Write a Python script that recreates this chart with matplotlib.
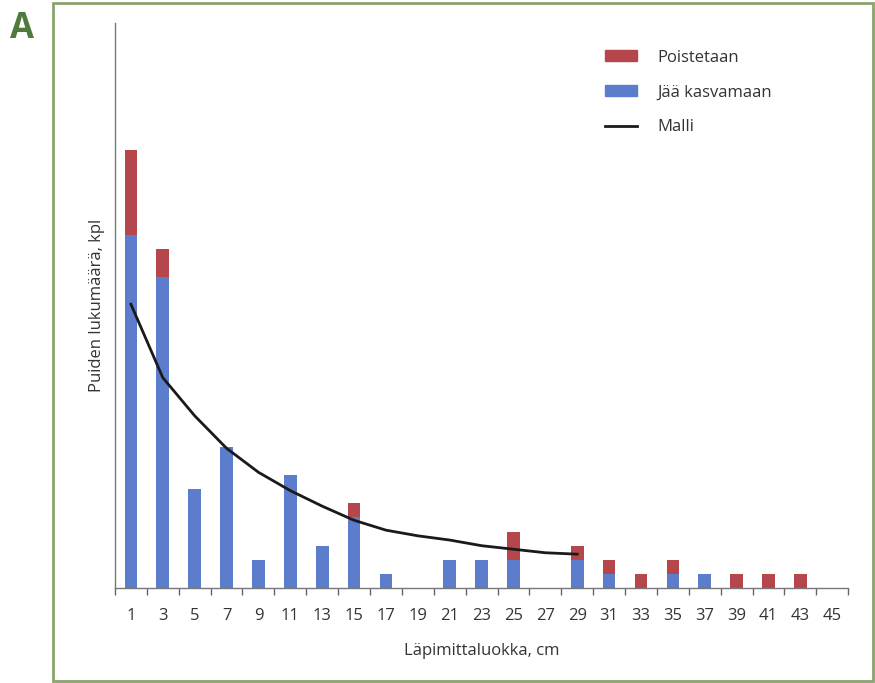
import matplotlib.pyplot as plt
import matplotlib.patches as mpatches
from matplotlib.lines import Line2D

plt.rcParams['font.family'] = ['Open Sans', 'DejaVu Sans']

# Diameter classes and tree counts
classes = [1, 3, 5, 7, 9, 11, 13, 15, 17, 19, 21, 23, 25, 27, 29,
           31, 33, 35, 37, 39, 41, 43, 45]
remaining = [25, 22, 7, 10, 2, 8, 3, 5, 1, 0, 2, 2, 2, 0, 2,
             1, 0, 1, 1, 0, 0, 0, 0]
removed = [6, 2, 0, 0, 0, 0, 0, 1, 0, 0, 0, 0, 2, 0, 1,
           1, 1, 1, 0, 1, 1, 1, 0]

# Model curve (classes 1..29)
model_classes = [1, 3, 5, 7, 9, 11, 13, 15, 17, 19, 21, 23, 25, 27, 29]
model_values = [20.1, 14.9, 12.2, 9.9, 8.2, 6.9, 5.8, 4.8, 4.1, 3.7,
                3.4, 3.0, 2.75, 2.5, 2.4]

red = '#b5474c'
blue = '#5b7dcc'

fig = plt.figure(figsize=(8.75, 6.83), dpi=100)
ax = fig.add_axes([0.1314, 0.139, 0.838, 0.827])

pos = list(range(len(classes)))
ax.bar(pos, remaining, width=0.4, color=blue)
ax.bar(pos, removed, width=0.4, bottom=remaining, color=red)

model_pos = [classes.index(c) for c in model_classes]
ax.plot(model_pos, model_values, color='#1a1a1a', lw=2)

ax.set_xlim(-0.5, len(classes) - 0.5)
ax.set_ylim(0, 40)
ax.set_yticks([])
ax.set_xticks(pos)
ax.set_xticklabels([str(c) for c in classes], fontsize=12, color='#333333')
ax.set_xticks([p - 0.5 for p in pos] + [len(classes) - 0.5], minor=True)
ax.tick_params(axis='x', which='major', length=0, pad=14)
ax.tick_params(axis='x', which='minor', length=5, color='#666666', width=1)

for s in ['top', 'right']:
    ax.spines[s].set_visible(False)
for s in ['left', 'bottom']:
    ax.spines[s].set_color('#777777')
    ax.spines[s].set_linewidth(1)

ax.set_xlabel('Läpimittaluokka, cm', fontsize=12, color='#333333', labelpad=14)
ax.set_ylabel('Puiden lukumäärä, kpl', fontsize=12, color='#333333', labelpad=7)

handles = [mpatches.Patch(color=red, label='Poistetaan'),
           mpatches.Patch(color=blue, label='Jää kasvamaan'),
           Line2D([0], [0], color='#1a1a1a', lw=2, label='Malli')]
leg = ax.legend(handles=handles, loc='upper left', bbox_to_anchor=(0.648, 0.98),
                frameon=False, fontsize=12, handlelength=1.9, handleheight=0.6,
                handletextpad=1.25, labelspacing=1.13)
for t in leg.get_texts():
    t.set_color('#333333')

# Green frame and panel letter
frame = mpatches.Rectangle((53 / 875, 2 / 683), 820 / 875, 678 / 683,
                           transform=fig.transFigure, fill=False,
                           edgecolor='#8ca46c', lw=2)
fig.patches.append(frame)
fig.text(10 / 875, 1 - 38 / 683, 'A', fontsize=25, fontweight='bold',
         color='#4f7a3c', ha='left', va='baseline')

fig.savefig('out.png', dpi=100)
